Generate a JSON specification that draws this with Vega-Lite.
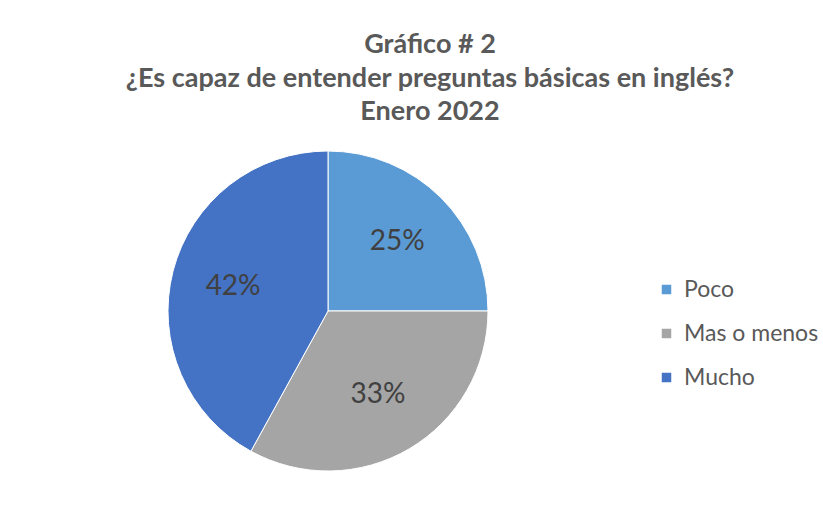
{
  "$schema": "https://vega.github.io/schema/vega-lite/v6.json",
  "width": 460,
  "height": 330,
  "padding": {"left": 98, "top": 31, "right": 5, "bottom": 5},
  "autosize": "pad",
  "background": "white",
  "title": {
    "text": ["Gráfico # 2", "¿Es capaz de entender preguntas básicas en inglés?", "Enero 2022"],
    "font": "Lato",
    "fontSize": 27,
    "fontWeight": "bold",
    "color": "#595959",
    "lineHeight": 33.5,
    "anchor": "middle",
    "dx": 102,
    "offset": 20
  },
  "data": {
    "values": [
      {"categoria": "Poco", "valor": 25, "orden": 1, "etiqueta": "25%"},
      {"categoria": "Mas o menos", "valor": 33, "orden": 2, "etiqueta": "33%"},
      {"categoria": "Mucho", "valor": 42, "orden": 3, "etiqueta": "42%"}
    ]
  },
  "encoding": {
    "theta": {"field": "valor", "type": "quantitative", "stack": true},
    "order": {"field": "orden", "type": "quantitative"},
    "color": {
      "field": "categoria",
      "type": "nominal",
      "scale": {"domain": ["Poco", "Mas o menos", "Mucho"], "range": ["#5B9BD5", "#A5A5A5", "#4472C4"]},
      "legend": {
        "title": null,
        "orient": "none",
        "legendX": 557,
        "legendY": 132,
        "symbolType": "square",
        "symbolSize": 121,
        "labelFont": "Lato",
        "labelFontSize": 23,
        "labelColor": "#595959",
        "rowPadding": 20,
        "padding": 0,
        "labelOffset": 6
      }
    }
  },
  "layer": [
    {"mark": {"type": "arc", "outerRadius": 160, "stroke": "white", "strokeWidth": 1}},
    {
      "mark": {"type": "text", "radius": 98, "font": "Lato", "fontSize": 28, "color": "#404040"},
      "encoding": {"text": {"field": "etiqueta"}, "color": {"value": "#404040"}}
    }
  ],
  "config": {"view": {"stroke": null}}
}
